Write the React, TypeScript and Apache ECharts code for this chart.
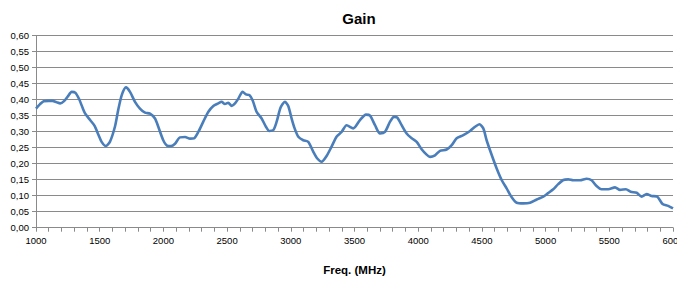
import React, { useEffect, useRef } from "react";
import * as echarts from "echarts";

const title = "Gain";
const xAxisName = "Freq. (MHz)";

const freqMHz = [
  1000, 1030, 1060, 1100, 1130, 1160, 1190, 1220, 1250, 1280, 1310, 1340, 1365, 1385, 1425, 1460,
  1490, 1515, 1548, 1580, 1620, 1645, 1673, 1706, 1738, 1777, 1816, 1856, 1895, 1934, 1960, 1999,
  2030, 2060, 2091, 2130, 2170, 2209, 2240, 2274, 2313, 2353, 2392, 2431, 2457, 2483, 2509, 2536,
  2562, 2588, 2622, 2648, 2674, 2700, 2731, 2771, 2805, 2831, 2863, 2889, 2920, 2954, 2980, 3007,
  3030, 3059, 3098, 3137, 3177, 3208, 3242, 3281, 3320, 3359, 3399, 3438, 3490, 3543, 3590, 3622,
  3661, 3700, 3739, 3779, 3810, 3836, 3870, 3909, 3949, 3988, 4027, 4066, 4093, 4132, 4171, 4223,
  4263, 4302, 4354, 4407, 4446, 4480, 4511, 4537, 4577, 4616, 4655, 4694, 4734, 4773, 4825, 4878,
  4930, 4982, 5020, 5060, 5099, 5139, 5178, 5217, 5270, 5322, 5361, 5400, 5439, 5492, 5545, 5584,
  5631, 5668, 5715, 5754, 5793, 5832, 5876, 5918, 5962, 6000,
];

const gain = [
  0.372, 0.385, 0.395, 0.396, 0.396, 0.392, 0.388, 0.395, 0.41, 0.424, 0.421, 0.4, 0.375, 0.357, 0.336, 0.318,
  0.29, 0.268, 0.255, 0.268, 0.316, 0.367, 0.414, 0.438, 0.424, 0.393, 0.372, 0.359, 0.356, 0.341, 0.315, 0.273,
  0.256, 0.255, 0.262, 0.282, 0.283, 0.278, 0.279, 0.299, 0.331, 0.362, 0.38, 0.388, 0.393, 0.386, 0.39, 0.38,
  0.388, 0.403, 0.424, 0.416, 0.414, 0.398, 0.362, 0.341, 0.315, 0.302, 0.305, 0.331, 0.375, 0.393, 0.38, 0.34,
  0.31, 0.284, 0.273, 0.268, 0.237, 0.216, 0.206, 0.224, 0.253, 0.284, 0.299, 0.32, 0.31, 0.336, 0.353, 0.35,
  0.32, 0.294, 0.299, 0.331, 0.346, 0.344, 0.32, 0.294, 0.279, 0.268, 0.245, 0.228, 0.221, 0.226, 0.24, 0.244,
  0.258, 0.279, 0.289, 0.302, 0.315, 0.323, 0.31, 0.273, 0.227, 0.185, 0.149, 0.123, 0.095, 0.078, 0.076, 0.078,
  0.088, 0.097, 0.108, 0.12, 0.136, 0.149, 0.151, 0.148, 0.148, 0.153, 0.148, 0.13, 0.12, 0.12, 0.126, 0.118,
  0.12, 0.112, 0.109, 0.097, 0.105, 0.099, 0.097, 0.074, 0.068, 0.06,
];

const xMin = 1000;
const xMax = 6000;
const xInterval = 500;
const yMin = 0;
const yMax = 0.6;
const yInterval = 0.05;

export default function App() {
  const ref = useRef<HTMLDivElement>(null);

  useEffect(() => {
    document.body.style.margin = "0";
    if (!ref.current) return;
    const chart = echarts.init(ref.current, undefined, { renderer: "svg" });
    const grey = "#8a8a8a";
    const font = "'Liberation Sans', Arial, sans-serif";
    chart.setOption({
      animation: false,
      backgroundColor: "#ffffff",
      title: {
        text: title,
        left: 354,
        top: 6,
        textAlign: "center",
        textStyle: { fontFamily: font, fontSize: 15, fontWeight: "bold", color: "#000" },
      },
      grid: { left: 36, right: 4, top: 35.5, bottom: 56.3, containLabel: false, outerBoundsMode: "none" },
      xAxis: {
        type: "value",
        min: xMin,
        max: xMax,
        interval: xInterval,
        name: xAxisName,
        nameLocation: "middle",
        nameGap: 36,
        nameTextStyle: { fontFamily: font, fontSize: 11.5, fontWeight: "bold", color: "#000" },
        axisLine: { show: true, lineStyle: { color: grey, width: 1 } },
        axisTick: { show: true, length: 4, lineStyle: { color: grey } },
        minorTick: { show: true, splitNumber: 5, length: 4, lineStyle: { color: grey } },
        splitLine: { show: false },
        axisLabel: {
          fontFamily: font,
          fontSize: 9.5,
          color: "#000",
          margin: 8,
          formatter: (v: number) => String(v),
        },
      },
      yAxis: {
        type: "value",
        min: yMin,
        max: yMax,
        interval: yInterval,
        axisLine: { show: true, lineStyle: { color: grey, width: 1 } },
        axisTick: { show: true, length: 4, lineStyle: { color: grey } },
        splitLine: { show: true, lineStyle: { color: grey, width: 1 } },
        axisLabel: {
          fontFamily: font,
          fontSize: 9.5,
          color: "#000",
          margin: 7,
          formatter: (v: number) => v.toFixed(2).replace(".", ","),
        },
      },
      series: [
        {
          type: "line",
          data: freqMHz.map((f, i) => [f, gain[i]]),
          showSymbol: false,
          smooth: 0.25,
          lineStyle: { color: "#4a7ebb", width: 2.6 },
          itemStyle: { color: "#4a7ebb" },
        },
      ],
    });
    return () => chart.dispose();
  }, []);

  return <div ref={ref} style={{ width: 677, height: 284 }} />;
}
